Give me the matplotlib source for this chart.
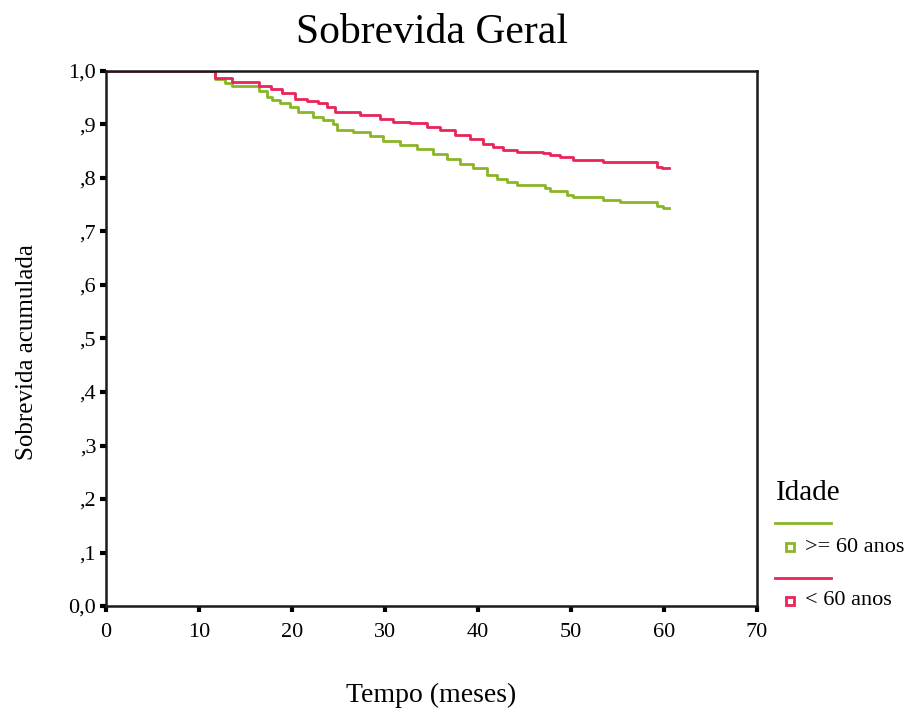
import numpy as np
import matplotlib.pyplot as plt
from matplotlib.lines import Line2D

plt.rcParams['font.family'] = ['Liberation Serif', 'DejaVu Serif']

# Kaplan-Meier steps (time in months, cumulative survival)
t_old = [0, 11.7, 12.8, 13.6, 16.5, 17.3, 17.8, 18.7, 19.8, 20.6, 22.3, 23.3, 24.4, 24.8,
         26.6, 28.4, 29.8, 31.6, 33.4, 35.2, 36.7, 38.1, 39.5, 41.0, 42.0, 43.1, 44.2,
         47.2, 47.7, 49.6, 50.2, 53.4, 55.3, 59.2, 59.9, 60.5]
s_old = [1.0, 0.985, 0.978, 0.972, 0.962, 0.952, 0.946, 0.940, 0.933, 0.924, 0.914, 0.909, 0.900, 0.890,
         0.886, 0.879, 0.869, 0.862, 0.854, 0.845, 0.836, 0.827, 0.818, 0.806, 0.798, 0.792, 0.787,
         0.781, 0.776, 0.768, 0.764, 0.759, 0.756, 0.748, 0.744, 0.744]

t_young = [0, 11.7, 13.6, 16.5, 17.7, 18.9, 20.3, 21.6, 22.8, 23.8, 24.6, 27.3, 29.5, 30.9,
           32.7, 34.5, 35.9, 37.5, 39.1, 40.5, 41.6, 42.7, 44.2, 47.0, 47.7, 48.8, 50.2,
           53.4, 53.9, 59.2, 59.8, 60.5]
s_young = [1.0, 0.987, 0.979, 0.972, 0.967, 0.959, 0.948, 0.944, 0.940, 0.932, 0.923, 0.918, 0.911, 0.905,
           0.902, 0.896, 0.890, 0.880, 0.872, 0.864, 0.857, 0.853, 0.849, 0.846, 0.843, 0.840, 0.834,
           0.830, 0.829, 0.821, 0.818, 0.818]

xticks = [0, 10, 20, 30, 40, 50, 60, 70]
yticks = [0.0, 0.1, 0.2, 0.3, 0.4, 0.5, 0.6, 0.7, 0.8, 0.9, 1.0]
ylabels = ['0,0', ',1', ',2', ',3', ',4', ',5', ',6', ',7', ',8', ',9', '1,0']

green = '#8ab626'
red = '#e8245a'

fig = plt.figure(figsize=(9.21, 7.17), dpi=100)
ax = fig.add_axes([0.1151, 0.1548, 0.7069, 0.7462])

ax.step(t_old, s_old, where='post', color=green, lw=2)
ax.step(t_young, s_young, where='post', color=red, lw=2)

ax.set_xlim(0, 70)
ax.set_ylim(0, 1.0)
ax.set_xticks(xticks)
ax.set_yticks(yticks)
ax.set_yticklabels(ylabels)
ax.tick_params(direction='out', length=4, width=3, labelsize=16)
ax.tick_params(axis='x', pad=8)
ax.tick_params(axis='y', pad=3)
for sp in ax.spines.values():
    sp.set_linewidth(1.8)
    sp.set_color('#1a1a1a')

ax.set_title('Sobrevida Geral', fontsize=30, pad=20)
ax.set_xlabel('Tempo (meses)', fontsize=20, labelpad=30)
ax.set_ylabel('Sobrevida acumulada', fontsize=18)
ax.yaxis.set_label_coords(-0.104, 0.475)

# legend drawn by hand to the right of the plot
fig.text(0.842, 0.312, 'Idade', fontsize=21, va='center')
fig.add_artist(Line2D([0.842, 0.902], [0.271, 0.271], color=green, lw=2))
fig.add_artist(Line2D([0.858], [0.237], marker='s', ms=6, mfc='white', mec=green, mew=2))
fig.text(0.874, 0.237, '>= 60 anos', fontsize=16, va='center')
fig.add_artist(Line2D([0.842, 0.902], [0.194, 0.194], color=red, lw=2))
fig.add_artist(Line2D([0.858], [0.162], marker='s', ms=6, mfc='white', mec=red, mew=2))
fig.text(0.874, 0.162, '< 60 anos', fontsize=16, va='center')

fig.savefig('out.png', dpi=100)
